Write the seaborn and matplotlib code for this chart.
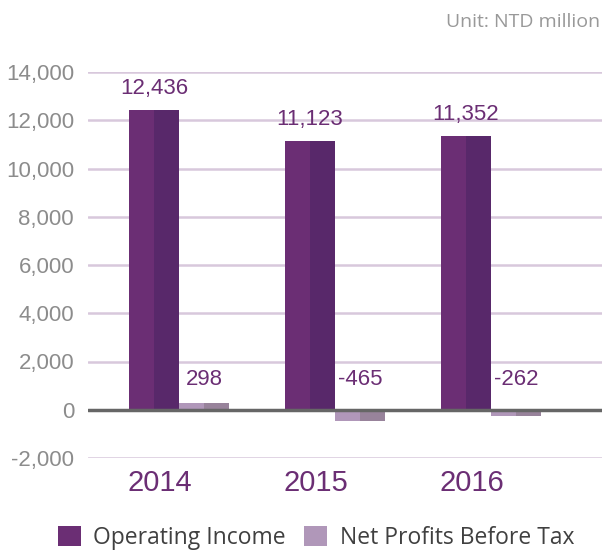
import pandas as pd
import matplotlib.pyplot as plt
import matplotlib.transforms as mtransforms
from matplotlib.patches import Rectangle, Patch
import seaborn as sns

# Data
years = ["2014", "2015", "2016"]
operating_income = [12436, 11123, 11352]
net_profits = [298, -465, -262]
series_names = ["Operating Income", "Net Profits Before Tax"]

# Colours (light half / dark half of each bar)
light_colors = ["#6b2e74", "#b097b9"]
dark_colors = ["#58286a", "#98839b"]
purple = "#6b2e74"

df = pd.DataFrame({
    "Year": years * 2,
    "Value": operating_income + net_profits,
    "Series": [series_names[0]] * 3 + [series_names[1]] * 3,
})

sns.set_style("white")
plt.rcParams["font.family"] = ["Liberation Sans", "DejaVu Sans"]

fig = plt.figure(figsize=(6.02, 5.53), dpi=100)
ax = fig.add_axes([88 / 602, 1 - 458 / 553, 514 / 602, 386 / 553])

sns.barplot(
    data=df, x="Year", y="Value", hue="Series",
    hue_order=series_names, palette=light_colors, saturation=1,
    width=0.64, legend=False, ax=ax, zorder=2,
    linewidth=0, edgecolor="none"
)

# darker right half of every bar, for the shaded look
for i, container in enumerate(ax.containers):
    for bar in container:
        x, y = bar.get_x(), bar.get_y()
        w, h = bar.get_width(), bar.get_height()
        ax.add_patch(Rectangle((x + w / 2, y), w / 2, h,
                               color=dark_colors[i], lw=0, zorder=2.1))

# value labels
for bar, val in zip(ax.containers[0], operating_income):
    ax.annotate(f"{val:,}", (bar.get_x() + bar.get_width() / 2, val),
                xytext=(0, 8), textcoords="offset points",
                ha="center", va="bottom", fontsize=16, color=purple)
for bar, val in zip(ax.containers[1], net_profits):
    ax.annotate(f"{val:,}", (bar.get_x() + bar.get_width() / 2, 0),
                xytext=(0, 22), textcoords="offset points",
                ha="center", va="center", fontsize=16, color=purple)

# axes styling
ax.set_ylim(-2000, 14000)
ax.set_xlim(-0.583, 2.712)
ax.set_yticks(range(-2000, 14001, 2000))
ax.set_yticklabels([f"{t:,}" for t in range(-2000, 14001, 2000)])
ax.yaxis.grid(True, color="#d8c8dc", lw=1.8)
ax.xaxis.grid(False)
ax.set_axisbelow(True)
ax.axhline(0, color="#666666", lw=2.5, zorder=3)
for s in ax.spines.values():
    s.set_visible(False)
ax.tick_params(axis="y", length=0, pad=10, labelsize=16, labelcolor="#8c8c8c")
ax.tick_params(axis="x", length=0, pad=8, labelsize=21, labelcolor=purple)
ax.set_xlabel("")
ax.set_ylabel("")

# year labels sit a little left of the group centre
shift = mtransforms.ScaledTranslation(-19 / 100, 0, fig.dpi_scale_trans)
for lbl in ax.get_xticklabels():
    lbl.set_transform(lbl.get_transform() + shift)

fig.text(600 / 602, 1 - 22 / 553, "Unit: NTD million", ha="right", va="center",
         fontsize=14, color="#999999", family=["Open Sans", "DejaVu Sans"])

handles = [Patch(color=c, lw=0) for c in light_colors]
fig.legend(handles, series_names, loc="center", bbox_to_anchor=(0.525, 1 - 538 / 553),
           ncol=2, frameon=False, handlelength=1.0, handleheight=1.0,
           handletextpad=0.55, columnspacing=0.8,
           prop={"family": ["Open Sans", "DejaVu Sans"], "size": 16.5},
           labelcolor="#404040")

plt.savefig("out.png", dpi=100)
